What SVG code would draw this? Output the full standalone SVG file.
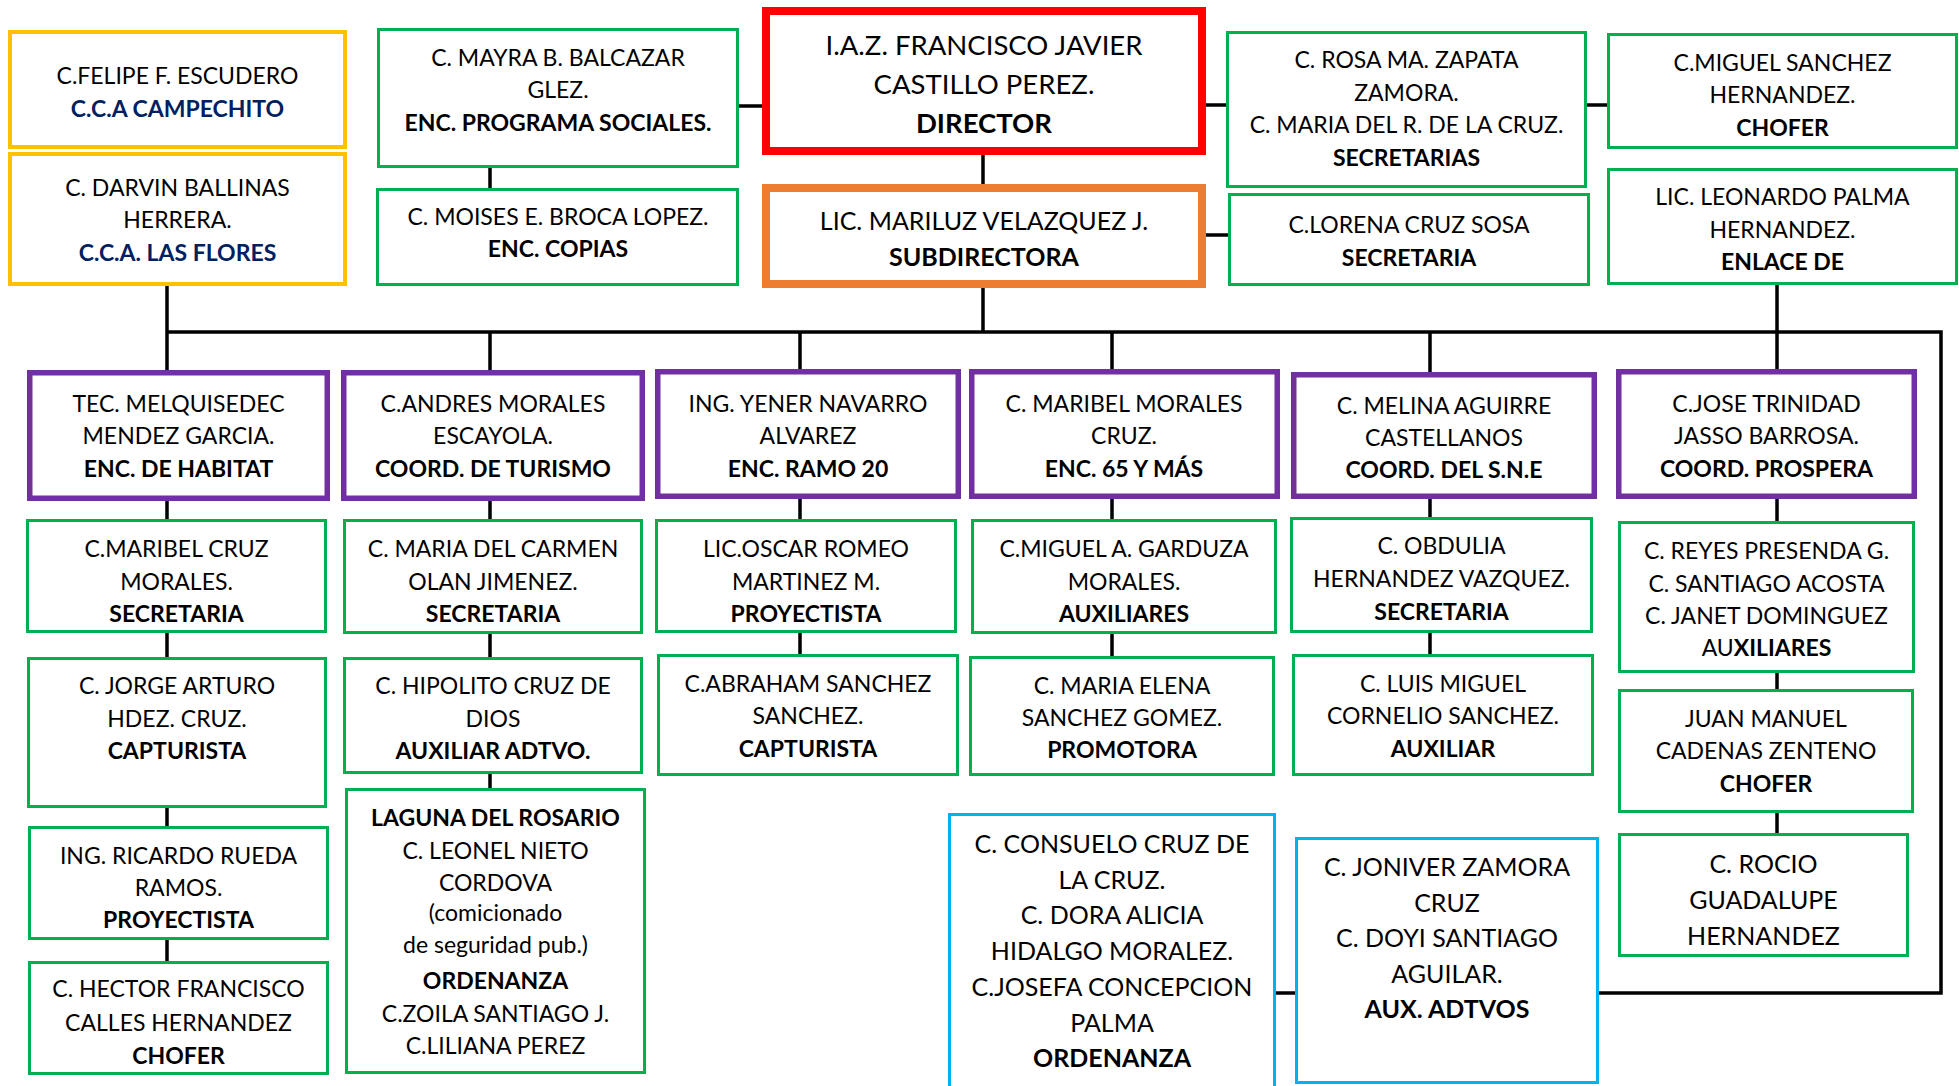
<svg xmlns="http://www.w3.org/2000/svg" width="1959" height="1086" viewBox="0 0 1959 1086">
<style>
rect{fill:#fff}
.g{stroke:#00B050;stroke-width:3}
.y{stroke:#FFC000;stroke-width:4}
.p{stroke:#7030A0;stroke-width:5.5}
.r{stroke:#FF0000;stroke-width:8}
.o{stroke:#ED7D31;stroke-width:8}
.c{stroke:#00B0F0;stroke-width:3}
text{font-family:Lato,"Open Sans","Liberation Sans",sans-serif;font-size:23px;text-anchor:middle;fill:#000}
.b{font-weight:bold}
.n{fill:#002060}
.L{font-size:25px}
.D{font-size:27.5px}
.S{font-size:25px}
#conn path{fill:none;stroke:#000;stroke-width:3.5}
</style>
<g id="conn">
<path d="M739 106H762M490 168V188M983 155V184M1206 105H1226M1206 235H1228M1587 105H1607"/>
<path d="M167 286V370M167 332H1941V993H1599M1295 993H1276M983 288V332M1777 285V369"/>
<path d="M490 332V370M800 332V369M1112 332V369M1430 332V372"/>
<path d="M167 501V519M167 633V657M167 808V826M167 940V961"/>
<path d="M490 501V519M490 634V657M490 774V788"/>
<path d="M800 499V519M800 633V654M1112 499V519M1112 634V656M1430 499V517M1430 633V654"/>
<path d="M1777 499V521M1777 673V689M1777 813V833"/>
</g>
<g id="ya"><rect class="y" x="10" y="32" width="335" height="115"/>
<text x="177.5" y="83.5">C.FELIPE F. ESCUDERO</text><text class="b n" x="177.5" y="116.5">C.C.A CAMPECHITO</text></g>
<g id="yb"><rect class="y" x="10" y="154" width="335" height="130"/>
<text x="177.5" y="195.5">C. DARVIN BALLINAS</text><text x="177.5" y="227.5">HERRERA.</text><text class="b n" x="177.5" y="260.5">C.C.A. LAS FLORES</text></g>
<g id="mayra"><rect class="g" x="378.5" y="29.5" width="359" height="137"/>
<text x="558" y="65.5">C. MAYRA B. BALCAZAR</text><text x="558" y="97.5">GLEZ.</text><text class="b" x="558" y="130.5">ENC. PROGRAMA SOCIALES.</text></g>
<g id="moises"><rect class="g" x="377.5" y="189.5" width="360" height="95"/>
<text x="558" y="224.5">C. MOISES E. BROCA LOPEZ.</text><text class="b" x="558" y="256.5">ENC. COPIAS</text></g>
<g id="director"><rect class="r" x="766" y="11" width="436" height="140"/>
<text class="D" x="984" y="55">I.A.Z. FRANCISCO JAVIER</text><text class="D" x="984" y="94">CASTILLO PEREZ.</text><text class="D b" x="984" y="133">DIRECTOR</text></g>
<g id="sub"><rect class="o" x="766" y="188" width="436" height="96"/>
<text class="S" x="984" y="229.5">LIC. MARILUZ VELAZQUEZ J.</text><text class="S b" x="984" y="265.5">SUBDIRECTORA</text></g>
<g id="rosa"><rect class="g" x="1227.5" y="32.5" width="358" height="154"/>
<text x="1406.5" y="67.5">C. ROSA MA. ZAPATA</text><text x="1406.5" y="100.5">ZAMORA.</text><text x="1406.5" y="132.5">C. MARIA DEL R. DE LA CRUZ.</text><text class="b" x="1406.5" y="165.5">SECRETARIAS</text></g>
<g id="lorena"><rect class="g" x="1229.5" y="194.5" width="359" height="90"/>
<text x="1409" y="232.5">C.LORENA CRUZ SOSA</text><text class="b" x="1409" y="265.5">SECRETARIA</text></g>
<g id="miguel"><rect class="g" x="1608.5" y="34.5" width="348" height="113"/>
<text x="1782.5" y="70.5">C.MIGUEL SANCHEZ</text><text x="1782.5" y="102.5">HERNANDEZ.</text><text class="b" x="1782.5" y="135.5">CHOFER</text></g>
<g id="leonardo"><rect class="g" x="1608.5" y="169.5" width="348" height="114"/>
<text x="1782.5" y="204.5">LIC. LEONARDO PALMA</text><text x="1782.5" y="237.5">HERNANDEZ.</text><text class="b" x="1782.5" y="269.5">ENLACE DE</text></g>
<g id="p1"><rect class="p" x="29.75" y="372.75" width="297.5" height="125.5"/>
<text x="178.5" y="411.5">TEC. MELQUISEDEC</text><text x="178.5" y="443.5">MENDEZ GARCIA.</text><text class="b" x="178.5" y="476.5">ENC. DE HABITAT</text></g>
<g id="p2"><rect class="p" x="343.75" y="372.75" width="298.5" height="125.5"/>
<text x="493" y="411.5">C.ANDRES MORALES</text><text x="493" y="443.5">ESCAYOLA.</text><text class="b" x="493" y="476.5">COORD. DE TURISMO</text></g>
<g id="p3"><rect class="p" x="657.75" y="371.75" width="300.5" height="124.5"/>
<text x="808" y="411.5">ING. YENER NAVARRO</text><text x="808" y="443.5">ALVAREZ</text><text class="b" x="808" y="476.5">ENC. RAMO 20</text></g>
<g id="p4"><rect class="p" x="971.75" y="371.75" width="305.5" height="124.5"/>
<text x="1124" y="411.5">C. MARIBEL MORALES</text><text x="1124" y="443.5">CRUZ.</text><text class="b" x="1124" y="476.5">ENC. 65 Y MÁS</text></g>
<g id="p5"><rect class="p" x="1293.75" y="374.75" width="300.5" height="121.5"/>
<text x="1444" y="413.5">C. MELINA AGUIRRE</text><text x="1444" y="445.5">CASTELLANOS</text><text class="b" x="1444" y="477.5">COORD. DEL S.N.E</text></g>
<g id="p6"><rect class="p" x="1618.75" y="371.75" width="295.5" height="124.5"/>
<text x="1766.5" y="411.5">C.JOSE TRINIDAD</text><text x="1766.5" y="443.5">JASSO BARROSA.</text><text class="b" x="1766.5" y="476.5">COORD. PROSPERA</text></g>
<g id="g1"><rect class="g" x="27.5" y="520.5" width="298" height="111"/>
<text x="176.5" y="556.5">C.MARIBEL CRUZ</text><text x="176.5" y="589.5">MORALES.</text><text class="b" x="176.5" y="621.5">SECRETARIA</text></g>
<g id="g2"><rect class="g" x="344.5" y="520.5" width="297" height="112"/>
<text x="493" y="556.5">C. MARIA DEL CARMEN</text><text x="493" y="589.5">OLAN JIMENEZ.</text><text class="b" x="493" y="621.5">SECRETARIA</text></g>
<g id="g3"><rect class="g" x="656.5" y="520.5" width="299" height="111"/>
<text x="806" y="556.5">LIC.OSCAR ROMEO</text><text x="806" y="589.5">MARTINEZ M.</text><text class="b" x="806" y="621.5">PROYECTISTA</text></g>
<g id="g4"><rect class="g" x="972.5" y="520.5" width="303" height="112"/>
<text x="1124" y="556.5">C.MIGUEL A. GARDUZA</text><text x="1124" y="589.5">MORALES.</text><text class="b" x="1124" y="621.5">AUXILIARES</text></g>
<g id="g5"><rect class="g" x="1291.5" y="518.5" width="300" height="113"/>
<text x="1441.5" y="553.5">C. OBDULIA</text><text x="1441.5" y="586.5">HERNANDEZ VAZQUEZ.</text><text class="b" x="1441.5" y="619.5">SECRETARIA</text></g>
<g id="g6"><rect class="g" x="1619.5" y="522.5" width="294" height="149"/>
<text x="1766.5" y="558.5">C. REYES PRESENDA G.</text><text x="1766.5" y="591.5">C. SANTIAGO ACOSTA</text><text x="1766.5" y="623.5">C. JANET DOMINGUEZ</text><text x="1766.5" y="655.5">AU<tspan class="b">XILIARES</tspan></text></g>
<g id="g1b"><rect class="g" x="28.5" y="658.5" width="297" height="148"/>
<text x="177" y="693.5">C. JORGE ARTURO</text><text x="177" y="726.5">HDEZ. CRUZ.</text><text class="b" x="177" y="758.5">CAPTURISTA</text></g>
<g id="g2b"><rect class="g" x="344.5" y="658.5" width="297" height="114"/>
<text x="493" y="693.5">C. HIPOLITO CRUZ DE</text><text x="493" y="726.5">DIOS</text><text class="b" x="493" y="758.5">AUXILIAR ADTVO.</text></g>
<g id="g3b"><rect class="g" x="658.5" y="655.5" width="299" height="119"/>
<text x="808" y="691.5">C.ABRAHAM SANCHEZ</text><text x="808" y="723.5">SANCHEZ.</text><text class="b" x="808" y="756.5">CAPTURISTA</text></g>
<g id="g4b"><rect class="g" x="970.5" y="657.5" width="303" height="117"/>
<text x="1122" y="693.5">C. MARIA ELENA</text><text x="1122" y="725.5">SANCHEZ GOMEZ.</text><text class="b" x="1122" y="757.5">PROMOTORA</text></g>
<g id="g5b"><rect class="g" x="1293.5" y="655.5" width="299" height="119"/>
<text x="1443" y="691.5">C. LUIS MIGUEL</text><text x="1443" y="723.5">CORNELIO SANCHEZ.</text><text class="b" x="1443" y="756.5">AUXILIAR</text></g>
<g id="g6b"><rect class="g" x="1619.5" y="690.5" width="293" height="121"/>
<text x="1766" y="726.5">JUAN MANUEL</text><text x="1766" y="758.5">CADENAS ZENTENO</text><text class="b" x="1766" y="791.5">CHOFER</text></g>
<g id="g6c"><rect class="g" x="1619.5" y="834.5" width="288" height="121"/>
<text class="L" x="1763.5" y="872.5">C. ROCIO</text><text class="L" x="1763.5" y="908.5">GUADALUPE</text><text class="L" x="1763.5" y="944.5">HERNANDEZ</text></g>
<g id="g1c"><rect class="g" x="29.5" y="827.5" width="298" height="111"/>
<text x="178.5" y="863.5">ING. RICARDO RUEDA</text><text x="178.5" y="895.5">RAMOS.</text><text class="b" x="178.5" y="927.5">PROYECTISTA</text></g>
<g id="g1d"><rect class="g" x="29.5" y="962.5" width="298" height="111"/>
<text x="178.5" y="996.5">C. HECTOR FRANCISCO</text><text x="178.5" y="1030.5">CALLES HERNANDEZ</text><text class="b" x="178.5" y="1063.5">CHOFER</text></g>
<g id="laguna"><rect class="g" x="346.5" y="789.5" width="298" height="283"/>
<text class="b" x="495.5" y="825.5">LAGUNA DEL ROSARIO</text><text x="495.5" y="858.5">C. LEONEL NIETO</text><text x="495.5" y="890.5">CORDOVA</text><text x="495.5" y="921">(comicionado</text><text x="495.5" y="953">de seguridad pub.)</text><text class="b" x="495.5" y="988.5">ORDENANZA</text><text x="495.5" y="1021.5">C.ZOILA SANTIAGO J.</text><text x="495.5" y="1053.5">C.LILIANA PEREZ</text></g>
<g id="consuelo"><rect class="c" x="949.5" y="814.5" width="325" height="280"/>
<text class="L" x="1112" y="852.5">C. CONSUELO CRUZ DE</text><text class="L" x="1112" y="888.5">LA CRUZ.</text><text class="L" x="1112" y="923.5">C. DORA ALICIA</text><text class="L" x="1112" y="959.5">HIDALGO MORALEZ.</text><text class="L" x="1112" y="995.5">C.JOSEFA CONCEPCION</text><text class="L" x="1112" y="1031.5">PALMA</text><text class="L b" x="1112" y="1066.5">ORDENANZA</text></g>
<g id="joniver"><rect class="c" x="1296.5" y="838.5" width="301" height="244"/>
<text class="L" x="1447" y="875.5">C. JONIVER ZAMORA</text><text class="L" x="1447" y="911.5">CRUZ</text><text class="L" x="1447" y="946.5">C. DOYI SANTIAGO</text><text class="L" x="1447" y="982.5">AGUILAR.</text><text class="L b" x="1447" y="1017.5">AUX. ADTVOS</text></g>
</svg>
